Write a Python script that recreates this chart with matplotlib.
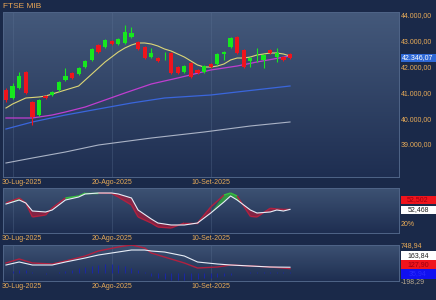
import numpy as np
import matplotlib
matplotlib.use("Agg")
import matplotlib.pyplot as plt
import matplotlib.transforms as mtransforms
from matplotlib.colors import LinearSegmentedColormap
from matplotlib.collections import LineCollection

plt.rcParams['font.family'] = ['Liberation Sans', 'DejaVu Sans']

# ---------------- data ----------------
title = "FTSE MIB"
tick_labels = ["30-Lug-2025", "20-Ago-2025", "10-Set-2025"]
tick_idx = [1, 16, 31]

opens = [41093, 40783, 41171, 41791, 40628, 40124, 40860, 40899, 41093, 41481,
         41752, 41713, 41984, 42256, 42837, 42760, 42992, 42876, 42915, 43147,
         42953, 42760, 42372, 42333, 42353, 42527, 41984, 41791, 42140, 41868,
         41791, 42101, 42101, 42488, 42760, 43147, 42643, 42217, 42353, 42256,
         42643, 42372, 42372, 42488]
highs = [41171, 41364, 41791, 41829, 40667, 40744, 40899, 41054, 41442, 41946,
         41791, 41984, 42256, 42721, 42876, 43070, 43031, 43109, 43612, 43535,
         42992, 42798, 42721, 42372, 42566, 42566, 42023, 42062, 42178, 41907,
         42062, 42140, 42527, 42605, 43147, 43186, 42682, 42372, 42721, 42488,
         42682, 42721, 42411, 42527]
lows = [40628, 40744, 41132, 40938, 39736, 40085, 40744, 40860, 41054, 41442,
        41519, 41674, 41946, 42217, 42527, 42721, 42837, 42837, 42876, 43109,
        42643, 42295, 42333, 42178, 42256, 41713, 41713, 41752, 41558, 41713,
        41752, 41946, 42062, 42256, 42721, 42488, 41946, 41984, 42178, 41946,
        42488, 42178, 42217, 42295]
closes = [40705, 41248, 41636, 40977, 40046, 40705, 40783, 41016, 41403, 41636,
          41558, 41946, 42217, 42682, 42566, 43031, 42876, 43070, 43341, 43302,
          42682, 42333, 42527, 42217, 42391, 41752, 41752, 42023, 41597, 41752,
          42023, 41984, 42488, 42566, 43109, 42527, 41984, 42333, 42391, 42450,
          42527, 42527, 42256, 42346.07]

ma_short_idx = [0, 1, 3, 5, 6, 8, 9, 11, 12, 13, 14, 15, 16, 17, 18, 19, 20, 21, 22,
                23, 24, 25, 26, 27, 28, 29, 30, 31, 32, 33, 34, 35, 36, 37, 38, 39,
                40, 41, 42, 43]
ma_short = [40395, 40550, 40783, 40822, 40860, 41016, 41093, 41248, 41481, 41713,
            41946, 42178, 42372, 42566, 42721, 42837, 42915, 42915, 42876, 42798,
            42682, 42605, 42488, 42372, 42217, 42062, 41984, 41984, 42023, 42101,
            42256, 42333, 42333, 42372, 42450, 42488, 42527, 42527, 42488, 42411]
ma_mid_idx = [0, 4, 7, 9, 12, 15, 18, 22, 26, 31, 35, 38, 43]
ma_mid = [40008, 40008, 40124, 40240, 40434, 40705, 40977, 41326, 41558, 41868,
          42023, 42178, 42411]
ma_long_idx = [0, 4, 9, 14, 19, 24, 31, 35, 43]
ma_long = [39581, 39853, 40124, 40357, 40589, 40783, 40899, 41016, 41248]
ma_vlong_idx = [0, 4, 9, 14, 22, 30, 37, 43]
ma_vlong = [38264, 38457, 38690, 38961, 39232, 39465, 39698, 39853]

osc_idx = [0, 2, 3, 4, 6, 7, 9, 11, 12, 14, 16, 17, 19, 20, 22, 23, 25, 27, 29,
           31, 33, 34, 35, 37, 38, 40, 41, 42, 43]
osc_k = [64.4, 73.3, 66.7, 48.9, 46.7, 51.1, 73.3, 80.0, 86.7, 88.9, 88.9, 86.7,
         77.8, 51.1, 31.1, 22.2, 17.8, 17.8, 22.2, 44.4, 68.9, 82.2, 73.3, 51.1,
         44.4, 46.7, 51.1, 48.9, 52.468]
osc_d = [66.7, 77.8, 66.7, 35.6, 40.0, 55.6, 77.8, 82.2, 88.9, 88.9, 88.0, 80.0,
         62.2, 35.6, 22.2, 13.3, 11.1, 22.2, 22.2, 57.8, 84.4, 88.9, 82.2, 37.0,
         35.6, 55.0, 53.3, 52.5, 52.502]

macd_idx = [0, 2, 4, 7, 9, 12, 14, 17, 19, 21, 22, 24, 27, 29, 32, 34, 37, 40, 43]
macd_line = [222.7, 301.6, 222.7, 222.7, 301.6, 406.9, 485.8, 564.7, 617.3, 617.3,
             591.0, 564.7, 459.5, 301.6, 249.0, 222.7, 196.4, 170.0, 163.84]
macd_signal = [275.3, 380.5, 275.3, 249.0, 327.9, 459.5, 591.0, 696.3, 748.9, 670.0,
               538.4, 433.2, 275.3, 143.7, 170.0, 222.7, 196.4, 170.0, 127.90]
macd_hist = [0, 60, 90, 80, 40, 0, -20, 0, 30, 60, 100, 140, 180, 200, 230, 250,
             240, 220, 190, 150, 100, 40, -60, -110, -150, -170, -180, -170, -160,
             -150, -130, -110, -90, -60, -30, 0, 20, 30, 40, 40, 40, 35, 30, 35.94]
macd_range = [-198.29, 748.94]
osc_last = [52.502, 52.468]
macd_last = [163.84, 127.90, 35.94]

# ---------------- style ----------------
BG = "#1a2949"
TXT = "#e8ab58"
GREEN = "#16e81e"
RED = "#f0141c"
SPINE = "#4f6487"

fig = plt.figure(figsize=(4.36, 3.0), dpi=100, facecolor=BG)
L, W = 3 / 436, 396 / 436
ax = fig.add_axes([L, 123 / 300, W, 165 / 300])
ax2 = fig.add_axes([L, 67 / 300, W, 45 / 300])
ax3 = fig.add_axes([L, 19 / 300, W, 36 / 300])

x_lo, x_hi = -0.45, 59.5


def background(a, top, bottom):
    cm = LinearSegmentedColormap.from_list("g", [bottom, top])
    a.imshow(np.linspace(0, 1, 256).reshape(-1, 1), cmap=cm, origin='lower',
             extent=[0, 1, 0, 1], transform=a.transAxes, aspect='auto', zorder=0,
             interpolation='bilinear')


def style(a, ylim):
    a.set_xlim(x_lo, x_hi)
    a.set_ylim(*ylim)
    a.set_facecolor(BG)
    for s in a.spines.values():
        s.set_color(SPINE)
        s.set_linewidth(0.7)
    a.yaxis.tick_right()
    a.tick_params(axis='both', length=0, labelsize=5, labelcolor=TXT, pad=1.5)
    a.set_xticks(tick_idx)
    a.set_xticklabels(tick_labels)
    first = a.get_xticklabels()[0]
    first.set_transform(first.get_transform() +
                        mtransforms.ScaledTranslation(9 / 100, 0, fig.dpi_scale_trans))
    for t in tick_idx:
        a.axvline(t, color="#5d7395", lw=0.5, alpha=0.45, zorder=1)


def box(a, yval, h, text, fc, tc):
    tr = mtransforms.blended_transform_factory(a.transAxes, a.transData)
    a.add_patch(plt.Rectangle((397.5 / 396, yval - h / 2), 40 / 396, h, transform=tr,
                              facecolor=fc, edgecolor='none', clip_on=False, zorder=10))
    a.text(415 / 396, yval, text, transform=tr, ha='center', va='center',
           fontsize=5, color=tc, clip_on=False, zorder=11)


# ---------------- main panel ----------------
main_ylim = (37721, 44116)
background(ax, "#44597b", "#1e2e51")
style(ax, main_ylim)
ax.set_yticks([39000, 40000, 41000, 42000, 43000, 44000])
ax.set_yticklabels([f"{v:,.2f}".replace(",", "X").replace(".", ",").replace("X", ".")
                    for v in [39000, 40000, 41000, 42000, 43000, 44000]])

ax.plot(ma_vlong_idx, ma_vlong, color="#aab3c6", lw=0.8, zorder=2)
ax.plot(ma_long_idx, ma_long, color="#3a66dc", lw=0.9, zorder=2)
ax.plot(ma_mid_idx, ma_mid, color="#c03ed0", lw=0.9, zorder=3)
ax.plot(ma_short_idx, ma_short, color="#dcd676", lw=0.8, zorder=3)

o = np.array(opens, float)
c = np.array(closes, float)
hi = np.array(highs, float)
lo = np.array(lows, float)
xi = np.arange(len(c))
cols = np.where(c >= o, GREEN, RED)
ax.vlines(xi, lo, hi, colors=cols, lw=0.8, zorder=4)
bh = np.maximum(np.abs(c - o), 30)
bb = np.minimum(o, c) - (bh - np.abs(c - o)) / 2
ax.bar(xi, bh, bottom=bb, width=0.64, color=cols, linewidth=0, zorder=5)

box(ax, closes[-1], 310, "42.346,07", "#2f69d6", "white")

fig.text(3 / 436, 1 - 6 / 300, title, color="#e8a656", fontsize=6, va='center', ha='left')

# ---------------- oscillator panel ----------------
background(ax2, "#3d5273", "#1e2e51")
style(ax2, (0, 100))
ax2.set_yticks([20])
ax2.set_yticklabels(["20%"])
k = np.array(osc_k)
d = np.array(osc_d)
hot = (d >= k) & (d >= 70)
ax2.fill_between(osc_idx, k, d, where=hot, interpolate=True, color="#2fa83a",
                 alpha=0.8, lw=0, zorder=2)
ax2.fill_between(osc_idx, k, d, where=~hot, interpolate=True, color="#a81a3a",
                 alpha=0.7, lw=0, zorder=2)
pts = np.column_stack([osc_idx, d])
segs = np.stack([pts[:-1], pts[1:]], axis=1)
segcol = ["#38c040" if (hot[i] and hot[i + 1]) else "#b3203f" for i in range(len(d) - 1)]
ax2.add_collection(LineCollection(segs, colors=segcol, lw=1.0, zorder=3))
ax2.plot(osc_idx, k, color="#e8eef8", lw=0.8, zorder=4)
box(ax2, 73.3, 17.8, "52,502", "#f0141c", "#9a0010")
box(ax2, 52.2, 17.8, "52,468", "white", "#222222")

# ---------------- MACD panel ----------------
background(ax3, "#3d5273", "#1e2e51")
style(ax3, tuple(macd_range))
ax3.set_yticks(macd_range)
ax3.set_yticklabels(["-198,29", "748,94"])
ax3.get_yticklabels()[0].set_color("#b8a890")
ax3.vlines(np.arange(len(macd_hist)), 0, macd_hist, color="#1a26a6", lw=0.7, zorder=2)
ax3.plot(macd_idx, macd_signal, color="#b3203f", lw=1.0, zorder=3)
ax3.plot(macd_idx, macd_line, color="#e8eef8", lw=0.8, zorder=4)
box(ax3, 472.6, 237, "163,84", "white", "#222222")
box(ax3, 235.8, 237, "127,90", "#f0141c", "#9a0010")
box(ax3, -14.1, 237, "35,94", "#1010f0", "#2a2aff")

fig.savefig("out.png", dpi=100, facecolor=BG)
